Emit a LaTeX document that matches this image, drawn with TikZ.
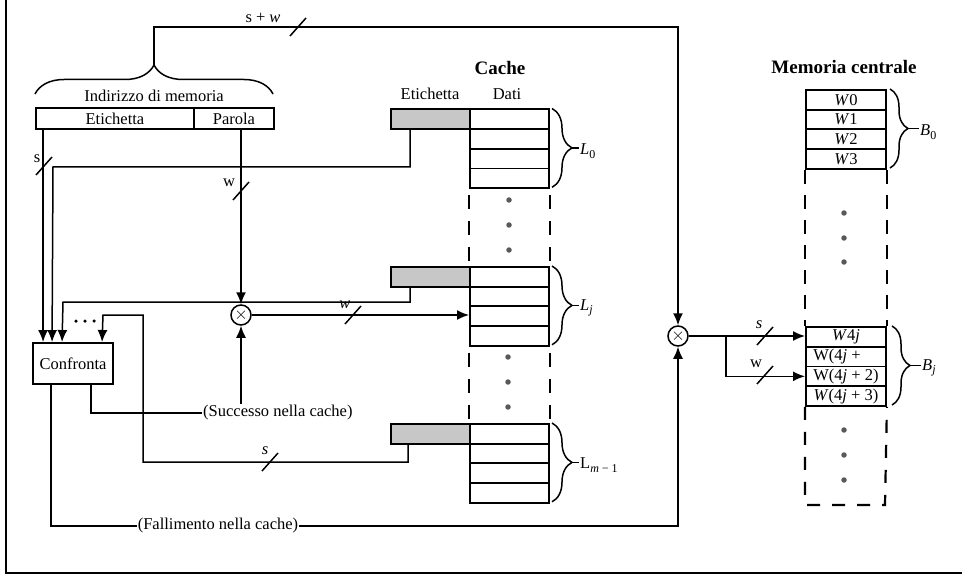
\documentclass[tikz,border=0pt]{standalone}
\usepackage{fontspec}
\setmainfont{Liberation Serif}
\usetikzlibrary{arrows.meta,decorations.pathreplacing,calc}
\newcommand\mysub[1]{\raisebox{-0.45ex}{\fontsize{12}{12}\selectfont #1}}
\newcommand\slashat[1]{\draw[slsh] ($(#1)+(-8,9)$) -- ($(#1)+(8,-9)$);}
\begin{document}
\begin{tikzpicture}[x=1pt,y=-1pt,
  every node/.style={font=\fontsize{16.5}{18}\selectfont},
  conn/.style={line width=1.5pt},
  arr/.style={line width=1.5pt,-{Latex[length=12pt,width=10pt]}},
  cell/.style={draw,line width=1.9pt,inner sep=0pt,anchor=north west},
  tagcell/.style={cell,fill=black!22,minimum width=79pt,minimum height=19.7pt},
  datacell/.style={cell,minimum width=79pt,minimum height=19.7pt},
  memcell/.style={cell,minimum width=80pt,minimum height=19.75pt},
  mult/.style={draw,circle,line width=1.5pt,minimum size=20pt,inner sep=0pt,fill=white},
  dotm/.style={circle,fill=black!65,minimum size=5.5pt,inner sep=0pt},
  smalldot/.style={circle,fill=black,minimum size=3.5pt,inner sep=0pt},
  brc/.style={decorate,decoration={brace,amplitude=#1,aspect=0.5},line width=1.5pt},
  dsh/.style={line width=2.2pt,dash pattern=on 14pt off 12pt},
  slsh/.style={line width=1.5pt},
  title/.style={font=\fontsize{19}{22}\selectfont\bfseries},
  lab/.style={inner sep=1pt},
]
\useasboundingbox (0,0) rectangle (962,575);
% frame
\draw[line width=2.6pt] (6,0) -- (6,573) -- (962,573);

% address register
\node[cell,minimum width=158pt,minimum height=21pt] (addrE) at (35,107) {Etichetta};
\node[cell,minimum width=80pt,minimum height=21pt] (addrP) at (193,107) {Parola};
\draw[brc=29pt] (35,94) -- (273,94);
\coordinate (btip) at (154,65);
\node (ind) at (154,96) {Indirizzo di memoria};

% cache
\node[title] (cachet) at (500,68) {Cache};
\node (etl) at (430,94) {Etichetta};
\node (dtl) at (507,94) {Dati};
\node[tagcell] (L0t) at (390,108.5) {};
\node[tagcell] (Ljt) at (390,266) {};
\node[tagcell] (Lmt) at (390,423) {};
\foreach \i in {1,2,3,4}{
  \node[datacell] (L0d\i) at (469,{108.5+19.7*(\i-1)}) {};
  \node[datacell] (Ljd\i) at (469,{266+19.7*(\i-1)}) {};
  \node[datacell] (Lmd\i) at (469,{423+19.7*(\i-1)}) {};
}
\draw[dsh,dash phase=20pt] (L0d4.south west) -- (Ljd1.north west);
\draw[dsh,dash phase=20pt] (L0d4.south east) -- (Ljd1.north east);
\draw[dsh,dash phase=20pt] (Ljd4.south west) -- (Lmd1.north west);
\draw[dsh,dash phase=20pt] (Ljd4.south east) -- (Lmd1.north east);
\node[dotm] (cd1) at (509,200) {};
\node[dotm] (cd2) at (509,225) {};
\node[dotm] (cd3) at (509,250) {};
\node[dotm] (cd4) at (508,357) {};
\node[dotm] (cd5) at (508,382) {};
\node[dotm] (cd6) at (508,407) {};
% cache braces
\draw[brc=20pt] (552,108.5) -- (552,187.3);
\node[lab,anchor=west] (L0l) at (579,151) {\textit{L}\mysub{0}};
\draw[conn] (572,148) -- (L0l.west |- 0,148);
\draw[brc=20pt] (552,266) -- (552,344.8);
\node[lab,anchor=west] (Ljl) at (579,308) {\textit{L}\mysub{\textit{j}}};
\draw[conn] (572,305.4) -- (Ljl.west |- 0,305.4);
\draw[brc=20pt] (552,423) -- (552,501.8);
\node[lab,anchor=west] (Lml) at (579,465) {L\mysub{\textit{m} − 1}};
\draw[conn] (572,462.4) -- (Lml.west |- 0,462.4);

% main memory
\node[title] (memt) at (844,67) {Memoria centrale};
\node[memcell] (B01) at (805,89) {\textit{W}0};
\node[memcell] (B02) at (805,108.75) {\textit{W}1};
\node[memcell] (B03) at (805,128.5) {\textit{W}2};
\node[memcell] (B04) at (805,148.25) {\textit{W}3};
\node[memcell] (Bj1) at (805,326) {\textit{W}4\textit{j}};
\node[memcell] (Bj2) at (805,345.75) {W(4\textit{j} +\phantom{ 1)}};
\node[memcell] (Bj3) at (805,365.5) {W(4\textit{j} + 2)};
\node[memcell] (Bj4) at (805,385.25) {\textit{W}(4\textit{j} + 3)};
\draw[line width=2.2pt,dash pattern=on 14pt off 11pt] (B04.south west) -- (Bj1.north west);
\draw[line width=2.2pt,dash pattern=on 14pt off 11pt] (B04.south east) -- (Bj1.north east);
\draw[line width=2.2pt,dash pattern=on 13pt off 12pt] (Bj4.south west) -- ++(0,98) -- ++(80,0) -- (Bj4.south east);
\node[dotm] (md1) at (844,213) {};
\node[dotm] (md2) at (844,238) {};
\node[dotm] (md3) at (844,262) {};
\node[dotm] (md4) at (844,430) {};
\node[dotm] (md5) at (844,455) {};
\node[dotm] (md6) at (844,480) {};
\draw[brc=18pt] (890,89) -- (890,168);
\node[lab,anchor=west] (B0l) at (919,132) {\textit{B}\mysub{0}};
\draw[conn] (908,128.5) -- (B0l.west |- 0,128.5);
\draw[brc=18pt] (892,326) -- (892,405);
\node[lab,anchor=west] (Bjl) at (921,368) {\textit{B}\mysub{\textit{j}}};
\draw[conn] (910,365.5) -- (Bjl.west |- 0,365.5);

% multipliers and comparator
\node[mult] (m1) at (241,315) {$\times$};
\node[mult] (m2) at (678,336) {$\times$};
\node[draw,line width=1.9pt,minimum width=80pt,minimum height=41pt,inner sep=0pt] (cmp) at (73,363.5) {Confronta};
\coordinate (t1) at ($(cmp.north west)+(11,0)$);
\coordinate (t2) at ($(cmp.north west)+(20,0)$);
\coordinate (t3) at ($(cmp.north west)+(30,0)$);
\coordinate (t4) at ($(cmp.north west)+(70,0)$);
\node[smalldot] (e1) at (76,321) {};
\node[smalldot] (e2) at (85,321) {};
\node[smalldot] (e3) at (94,321) {};

% top s+w line
\draw[arr] (btip) -- (154,27) -| (m2.north);
\node (swl) at (263,18) {s + \textit{w}};
\slashat{298,27}

% tag field to comparator
\draw[arr] (addrE.south -| t1) -- (t1);
\node (sl1) at (37,159) {s};
\slashat{44,166}
\coordinate (k2) at (53,167);
\draw[arr] ($(L0t.south west)+(20,0)$) |- (k2) -- (t2);
\coordinate (k3) at (63,302);
\draw[arr] ($(Ljt.south west)+(20,0)$) |- (k3) -- (t3);
\coordinate (k4a) at (143,462);
\coordinate (k4b) at (143,315);
\coordinate (k4c) at (103,315);
\draw[arr] ($(Lmt.south west)+(18,0)$) |- (k4a) -- (k4b) -- (k4c) -- (t4);
\node (sl4) at (265,451) {\textit{s}};
\slashat{270,462}

% word field to multiplier
\draw[arr] (addrP.south -| m1) -- (m1.north);
\node (wl1) at (229,183) {w};
\slashat{241,191}
\draw[arr] (m1.east) -- (m1.east -| Ljd3.west);
\node (wl2) at (345,305) {\textit{w}};
\slashat{353,315}

% hit
\node[lab,anchor=west] (succ) at (202,413) {(Successo nella cache)};
\draw[conn] ($(cmp.south west)+(59,0)$) |- (succ.west);
\draw[arr] (succ.north -| m1) -- (m1.south);

% miss
\node[lab] (fail) at (218,526) {(Fallimento nella cache)};
\draw[conn] ($(cmp.south west)+(19,0)$) |- (fail.west);
\draw[arr] (fail.east) -| (m2.south);

% to memory
\draw[arr] (m2.east) -- (m2.east -| Bj1.west);
\coordinate (br) at (726,336);
\draw[arr] (br) |- (Bj3.west);
\node (sl5) at (759,325) {\textit{s}};
\slashat{765,336}
\node (wl5) at (756,364) {w};
\slashat{765,375}
\end{tikzpicture}
\end{document}
